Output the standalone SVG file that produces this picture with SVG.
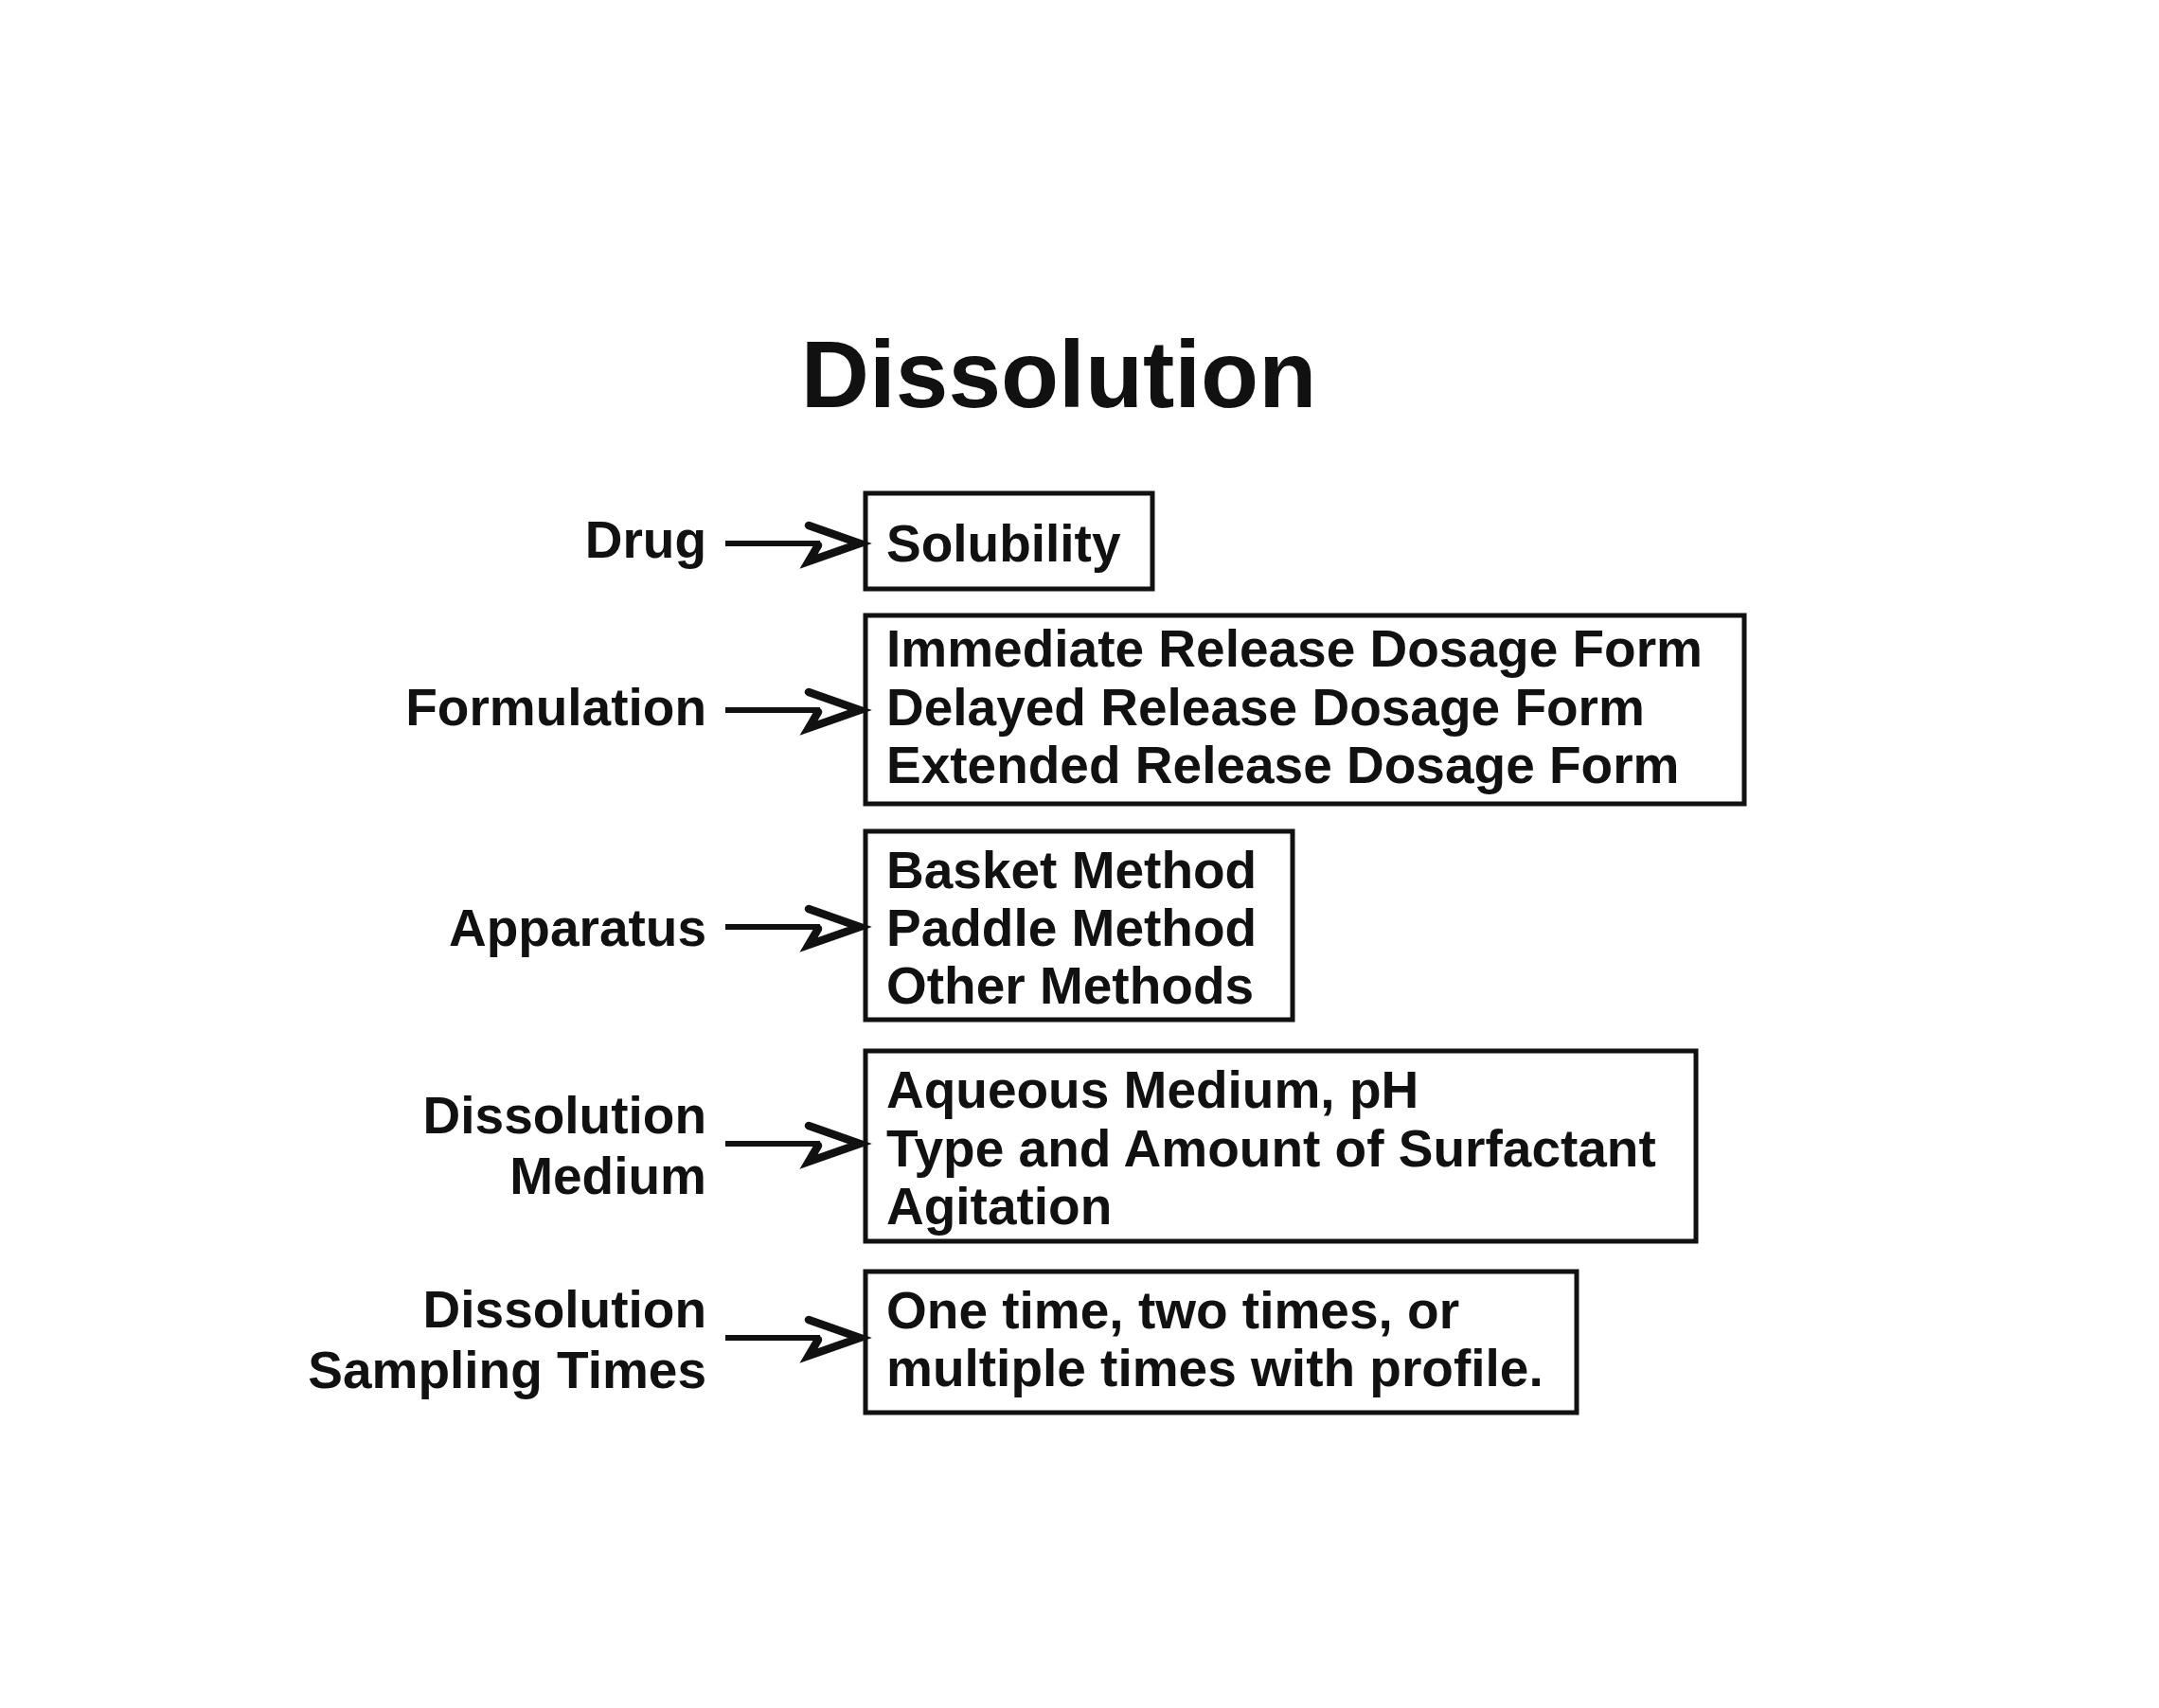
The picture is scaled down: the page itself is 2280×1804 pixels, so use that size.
<svg xmlns="http://www.w3.org/2000/svg" width="2280" height="1804" viewBox="0 0 2280 1804">
<style>
text{font-family:"Liberation Sans",Arial,sans-serif;font-weight:bold;fill:#111}
.t{font-size:55px}
.lbl{font-size:55px;text-anchor:end}
.title{font-size:100px;text-anchor:middle}
.box{fill:none;stroke:#111;stroke-width:5}
.ln{stroke:#111;stroke-width:6;fill:none}
.hd{stroke:#111;stroke-width:8.5;fill:none;stroke-linejoin:miter;stroke-linecap:round}
</style>
<defs>
<g id="arrow">
<line class="ln" x1="0" y1="0" x2="100" y2="0"/>
<path class="hd" d="M88,-19 L142,0 L88,19 L98,2"/>
</g>
</defs>
<rect width="2280" height="1804" fill="#fff"/>
<text class="title" x="1118" y="430">Dissolution</text>
<g id="connectors">
<use href="#arrow" x="766" y="574"/>
<use href="#arrow" x="766" y="750"/>
<use href="#arrow" x="766" y="979"/>
<use href="#arrow" x="766" y="1208"/>
<use href="#arrow" x="766" y="1413"/>
</g>
<g id="drug"><text class="lbl" x="746" y="589">Drug</text></g>
<g id="formulation"><text class="lbl" x="746" y="766">Formulation</text></g>
<g id="apparatus"><text class="lbl" x="746" y="999">Apparatus</text></g>
<g id="medium"><text class="lbl" x="746" y="1197">Dissolution</text><text class="lbl" x="746" y="1261">Medium</text></g>
<g id="sampling"><text class="lbl" x="746" y="1402">Dissolution</text><text class="lbl" x="746" y="1466">Sampling Times</text></g>
<g id="solubility"><rect class="box" x="914" y="521" width="303" height="101"/><text class="t" x="936" y="593">Solubility</text></g>
<g id="dosage"><rect class="box" x="914" y="650" width="928" height="199"/>
<text class="t" x="936" y="704">Immediate Release Dosage Form</text>
<text class="t" x="936" y="766">Delayed Release Dosage Form</text>
<text class="t" x="936" y="827">Extended Release Dosage Form</text></g>
<g id="methods"><rect class="box" x="914" y="878" width="451" height="199"/>
<text class="t" x="936" y="938">Basket Method</text>
<text class="t" x="936" y="999">Paddle Method</text>
<text class="t" x="936" y="1060">Other Methods</text></g>
<g id="conditions"><rect class="box" x="914" y="1110" width="877" height="201"/>
<text class="t" x="936" y="1170">Aqueous Medium, pH</text>
<text class="t" x="936" y="1232">Type and Amount of Surfactant</text>
<text class="t" x="936" y="1293">Agitation</text></g>
<g id="times"><rect class="box" x="914" y="1343" width="751" height="149"/>
<text class="t" x="936" y="1403">One time, two times, or</text>
<text class="t" x="936" y="1464">multiple times with profile.</text></g>
</svg>
